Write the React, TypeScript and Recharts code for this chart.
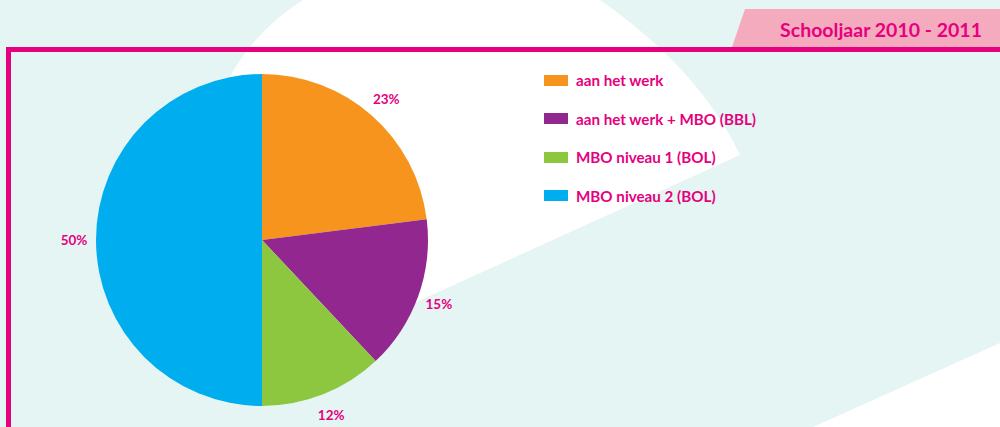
import { Cell, Pie, PieChart } from "recharts";

const categories = [
  "aan het werk",
  "aan het werk + MBO (BBL)",
  "MBO niveau 1 (BOL)",
  "MBO niveau 2 (BOL)",
];
const shares = [23, 15, 12, 50];
const colors = ["#F7941D", "#92278F", "#8DC63F", "#00AEEF"];
const title = "Schooljaar 2010 - 2011";

const PINK = "#E6007E";
const FONT = "Lato, 'Open Sans', sans-serif";

const data = categories.map((name, i) => ({ name, value: shares[i] }));

const RADIAN = Math.PI / 180;

function renderLabel(props: any) {
  const { cx, cy, midAngle, outerRadius, value } = props;
  const r = outerRadius + 22;
  const x = cx + r * Math.cos(-midAngle * RADIAN);
  const y = cy + r * Math.sin(-midAngle * RADIAN);
  return (
    <text
      x={x}
      y={y}
      fill={PINK}
      textAnchor="middle"
      dominantBaseline="central"
      fontSize={13.5}
      fontWeight={700}
      fontFamily={FONT}
    >
      {`${value}%`}
    </text>
  );
}

function LegendList() {
  return (
    <div
      style={{
        position: "absolute",
        left: 544,
        top: 61,
        fontFamily: FONT,
      }}
    >
      {categories.map((name, i) => (
        <div
          key={name}
          style={{ display: "flex", alignItems: "center", height: 38.5 }}
        >
          <span
            style={{
              display: "inline-block",
              width: 24,
              height: 11,
              background: colors[i],
              marginRight: 8,
            }}
          />
          <span style={{ color: PINK, fontSize: 15.2, fontWeight: 700 }}>
            {name}
          </span>
        </div>
      ))}
    </div>
  );
}

export default function App() {
  return (
    <div
      style={{
        position: "absolute",
        left: 0,
        top: 0,
        width: 1000,
        height: 427,
        overflow: "hidden",
        background: "#E4F5F3",
      }}
    >
      {/* decorative backdrop */}
      <svg
        width={1000}
        height={427}
        style={{ position: "absolute", left: 0, top: 0 }}
      >
        <path
          d="M 303 0 L 600 0 Q 700 70 740 155 L 262 372 L 200 150 L 228 80 Q 255 30 303 0 Z"
          fill="#FFFFFF"
        />
        <path d="M 813 427 L 1000 343 L 1000 427 Z" fill="#FFFFFF" />
        <path d="M 745 9 L 1000 9 L 1000 47 L 732 47 Z" fill="#F5ABBE" />
        <rect x={6} y={47} width={994} height={5} fill={PINK} />
        <rect x={6} y={47} width={5} height={380} fill={PINK} />
        <text
          x={982}
          y={29}
          textAnchor="end"
          dominantBaseline="central"
          fill={PINK}
          fontSize={19.5}
          fontWeight={700}
          fontFamily={FONT}
        >
          {title}
        </text>
      </svg>

      <div style={{ position: "absolute", left: 0, top: 0 }}>
        <PieChart
          width={1000}
          height={427}
          margin={{ top: 0, right: 0, bottom: 0, left: 0 }}
        >
          <Pie
            data={data}
            dataKey="value"
            nameKey="name"
            cx={262}
            cy={240}
            outerRadius={166}
            startAngle={90}
            endAngle={-270}
            stroke="none"
            label={renderLabel}
            labelLine={false}
            isAnimationActive={false}
          >
            {data.map((d, i) => (
              <Cell key={d.name} fill={colors[i]} />
            ))}
          </Pie>
        </PieChart>
      </div>

      <LegendList />
    </div>
  );
}
